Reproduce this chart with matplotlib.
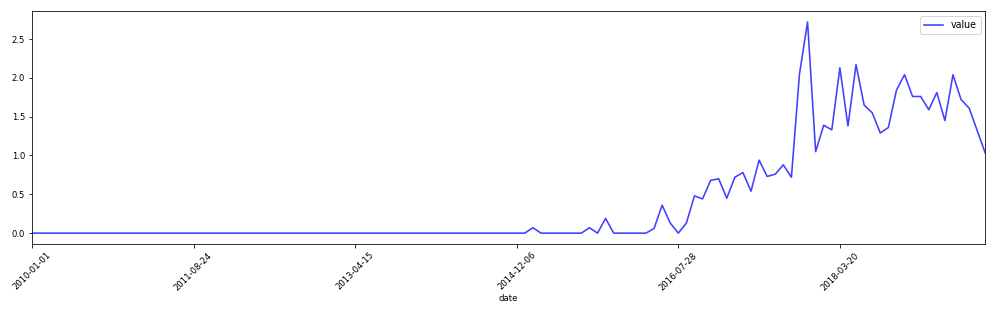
import matplotlib
matplotlib.use("Agg")
import matplotlib.pyplot as plt
import matplotlib.dates as mdates
import pandas as pd

# values sampled every 30 days starting 2010-01-01
start_date = "2010-01-01"
step_days = 30
values = ([0.0] * 62
          + [0.07, 0.0, 0.0, 0.0, 0.0, 0.0, 0.0, 0.07, 0.0, 0.19]
          + [0.0, 0.0, 0.0, 0.0, 0.0]
          + [0.06, 0.36, 0.13, 0.0, 0.13, 0.48, 0.44, 0.68, 0.70, 0.45,
             0.72, 0.78, 0.54, 0.94, 0.73, 0.76, 0.88, 0.72, 2.05, 2.72,
             1.05, 1.39, 1.33, 2.13, 1.38, 2.17, 1.65, 1.55, 1.29, 1.36,
             1.84, 2.04, 1.76, 1.76, 1.59, 1.81, 1.45, 2.04, 1.72, 1.61,
             1.32, 1.03])
tick_step_days = 600

dates = pd.date_range(start=start_date, periods=len(values), freq="%dD" % step_days)
df = pd.DataFrame({"value": values}, index=dates)
df.index.name = "date"

fig = plt.figure(figsize=(996 / 72, 310 / 72), dpi=72)
ax = fig.add_axes([32 / 996, 1 - 243.7 / 310, (985.3 - 32) / 996, (243.7 - 11.3) / 310])

ax.plot(df.index, df["value"], color="blue", alpha=0.75, linewidth=1.6, label="value")

ticks = pd.date_range(start=start_date, end=dates[-1], freq="%dD" % tick_step_days)
ax.set_xticks(ticks)
ax.xaxis.set_major_formatter(mdates.DateFormatter("%Y-%m-%d"))
ax.set_xlim(dates[0], dates[-1])
ax.set_ylim(-0.136, 2.857)
ax.set_yticks([0.0, 0.5, 1.0, 1.5, 2.0, 2.5])
ax.tick_params(axis="both", labelsize=8.5)
for lbl in ax.get_xticklabels():
    lbl.set_rotation(45)
    lbl.set_ha("center")
ax.set_xlabel("date", fontsize=8.5, labelpad=2)
ax.legend(loc="upper right", fontsize=9.5)

fig.savefig("out.png", dpi=72)
